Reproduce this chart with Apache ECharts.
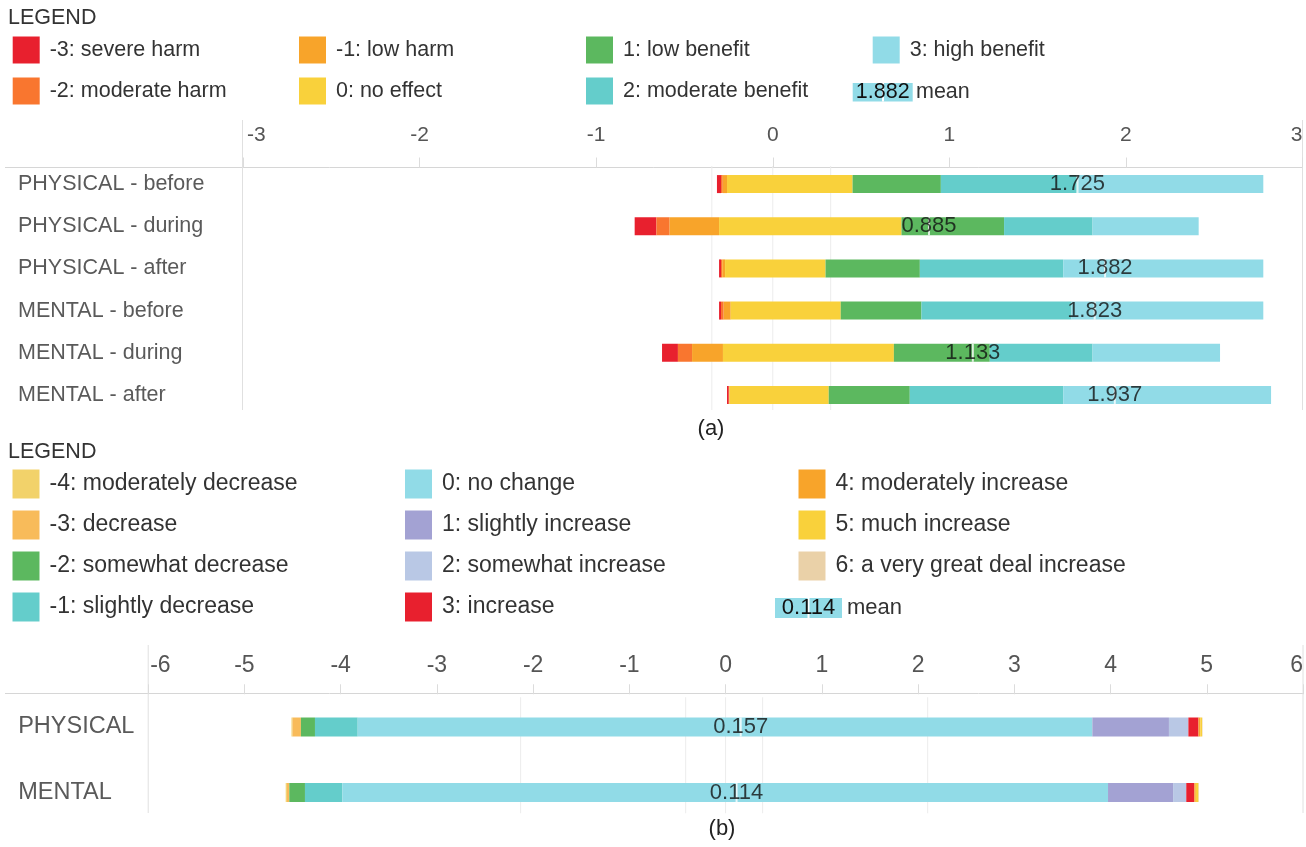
<!DOCTYPE html>
<html><head><meta charset="utf-8">
<script src="https://cdn.jsdelivr.net/npm/echarts@6/dist/echarts.min.js"></script>
<style>html,body{margin:0;padding:0;background:#fff}#c{width:1306px;height:847px}</style>
</head><body><div id="c"></div>
<script>
const FONT = '"Liberation Sans", Arial, Helvetica, sans-serif';

// ---------- Panel (a) data ----------
const categoriesA = ['PHYSICAL - before','PHYSICAL - during','PHYSICAL - after','MENTAL - before','MENTAL - during','MENTAL - after'];
const levelNamesA = ['-3: severe harm','-2: moderate harm','-1: low harm','0: no effect','1: low benefit','2: moderate benefit','3: high benefit'];
const colorsA = ['#e8202e','#f9762f','#f8a42a','#f9d13b','#5cb85f','#64cdcb','#91dbe7'];
const startA      = [-0.316, -0.782, -0.304, -0.304, -0.627, -0.259];
const severeHarm  = [0.023, 0.123, 0.011, 0.011, 0.090, 0.010];
const modHarm     = [0.010, 0.075, 0.007, 0.015, 0.080, 0.002];
const lowHarm     = [0.024, 0.280, 0.016, 0.040, 0.175, 0.003];
const noEffect    = [0.711, 1.033, 0.569, 0.623, 0.968, 0.561];
const lowBenefit  = [0.500, 0.581, 0.534, 0.457, 0.543, 0.459];
const modBenefit  = [0.778, 0.501, 0.812, 0.850, 0.582, 0.869];
const highBenefit = [1.048, 0.601, 1.133, 1.086, 0.722, 1.177];
const meansA      = [1.725, 0.885, 1.882, 1.823, 1.133, 1.937];
const ticksA      = [-3, -2, -1, 0, 1, 2, 3];
const gridLinesA  = [-0.345, 0, 0.328];

// ---------- Panel (b) data ----------
const categoriesB = ['PHYSICAL','MENTAL'];
const levelNamesB = ['-4: moderately decrease','-3: decrease','-2: somewhat decrease','-1: slightly decrease','0: no change','1: slightly increase','2: somewhat increase','3: increase','4: moderately increase','5: much increase','6: a very great deal increase'];
const colorsB = ['#f2d26a','#f8bb5a','#5cb85f','#64cdcb','#91dbe7','#a3a2d3','#b9c8e5','#e8202e','#f8a42a','#f9d13b','#ead1a8'];
const startB      = [-4.511, -4.571];
const modDecrease = [0.010, 0.012];
const decrease    = [0.088, 0.025];
const somewhatDec = [0.146, 0.163];
const slightlyDec = [0.444, 0.388];
const noChange    = [7.634, 7.957];
const slightlyInc = [0.796, 0.676];
const somewhatInc = [0.202, 0.137];
const increase    = [0.105, 0.084];
const modIncrease = [0.019, 0.015];
const muchIncrease= [0.018, 0.028];
const greatDeal   = [0.005, 0.004];
const meansB      = [0.157, 0.114];
const ticksB      = [-6, -5, -4, -3, -2, -1, 0, 1, 2, 3, 4, 5, 6];
const gridLinesB  = [-2.13, -0.415, 0, 0.385, 2.1];

const valuesA = [severeHarm, modHarm, lowHarm, noEffect, lowBenefit, modBenefit, highBenefit];
const valuesB = [modDecrease, decrease, somewhatDec, slightlyDec, noChange, slightlyInc, somewhatInc, increase, modIncrease, muchIncrease, greatDeal];

function buildPanel(idx, cats, names, colors, values, start, means, gridLines, barW, lineBottomCut, meanFont) {
  const out = [];
  out.push({
    type: 'custom', name: '_grid' + idx, xAxisIndex: idx, yAxisIndex: idx, z: 0, silent: true,
    data: gridLines.map(v => [v, cats[0]]), encode: { x: 0, y: 1 },
    renderItem: (params, api) => {
      const x = api.coord([api.value(0), 0])[0];
      const cs = params.coordSys;
      return { type: 'line', shape: { x1: x, y1: cs.y + 3, x2: x, y2: cs.y + cs.height - lineBottomCut },
               style: { stroke: '#ececec', lineWidth: 1 } };
    }
  });
  out.push({
    type: 'bar', name: '_offset' + idx, xAxisIndex: idx, yAxisIndex: idx, stack: 's' + idx, stackStrategy: 'all',
    data: start, barWidth: barW, silent: true, itemStyle: { color: 'rgba(0,0,0,0)' }, emphasis: { disabled: true }, z: 2
  });
  names.forEach((n, k) => {
    out.push({
      type: 'bar', name: n, xAxisIndex: idx, yAxisIndex: idx, stack: 's' + idx, stackStrategy: 'all',
      data: values[k], barWidth: barW, itemStyle: { color: colors[k] }, emphasis: { disabled: true }, z: 2
    });
  });
  out.push({
    type: 'scatter', name: '_mean' + idx, xAxisIndex: idx, yAxisIndex: idx, z: 5, silent: true,
    data: means.map((m, i) => [m, cats[i]]), symbol: 'rect', symbolSize: [2, barW],
    itemStyle: { color: '#ffffff' },
    label: { show: true, position: 'inside', formatter: p => p.value[0].toFixed(3), fontSize: meanFont, color: '#111', fontFamily: FONT }
  });
  return out;
}

const series = [].concat(
  buildPanel(0, categoriesA, levelNamesA, colorsA, valuesA, startA, meansA, gridLinesA, 18, 6, 22),
  buildPanel(1, categoriesB, levelNamesB, colorsB, valuesB, startB, meansB, gridLinesB, 19, 12, 22)
);

function legendCol(left, top, data, w, h, gap, fs) {
  return { left, top, orient: 'vertical', data, icon: 'rect', itemWidth: w, itemHeight: h, itemGap: gap,
           padding: 0, selectedMode: false,
           textStyle: { fontSize: fs, color: '#333', fontFamily: FONT, padding: [0, 0, 0, 5] } };
}

const legends = [
  legendCol(12.7, 36.5, levelNamesA.slice(0, 2), 27, 27, 14, 21.5),
  legendCol(299, 36.5, levelNamesA.slice(2, 4), 27, 27, 14, 21.5),
  legendCol(586, 36.5, levelNamesA.slice(4, 6), 27, 27, 14, 21.5),
  legendCol(872.7, 36.5, levelNamesA.slice(6, 7), 27, 27, 14, 21.5),
  legendCol(12.5, 469.5, levelNamesB.slice(0, 4), 27, 29, 12, 23),
  legendCol(405, 469.5, levelNamesB.slice(4, 8), 27, 29, 12, 23),
  legendCol(798.5, 469.5, levelNamesB.slice(8, 11), 27, 29, 12, 23)
];

function xAxisCfg(idx, ticks, offset, fs, margin, minPad) {
  const min = ticks[0];
  return {
    gridIndex: idx, type: 'value', position: 'top', min, max: ticks[ticks.length - 1],
    interval: ticks[1] - ticks[0], offset,
    axisLine: { show: false }, splitLine: { show: false },
    axisTick: { show: true, length: 10, lineStyle: { color: '#dcdcdc' } },
    axisLabel: {
      fontSize: fs, color: '#555', margin, fontFamily: FONT, alignMinLabel: 'left', alignMaxLabel: 'right',
      formatter: v => (v === min ? '{m|' + v + '}' : String(v)),
      rich: { m: { padding: [0, 0, 0, minPad], fontSize: fs, color: '#555', fontFamily: FONT } }
    }
  };
}
function yAxisCfg(idx, cats, margin, fs) {
  return {
    gridIndex: idx, type: 'category', data: cats, inverse: true,
    axisLine: { show: false }, axisTick: { show: false }, splitLine: { show: false },
    axisLabel: { align: 'left', margin, fontSize: fs, color: '#5a5a5a', fontFamily: FONT }
  };
}

const lineStyle = { stroke: '#d6d6d6', lineWidth: 1 };
const vStyle = { stroke: '#e0e0e0', lineWidth: 1 };
const graphic = [
  { type: 'text', x: 8, y: 18, style: { text: 'LEGEND', font: '21.5px ' + FONT, fill: '#333', textAlign: 'left', textVerticalAlign: 'middle' } },
  { type: 'line', shape: { x1: 5, y1: 167.5, x2: 1302.5, y2: 167.5 }, style: lineStyle },
  { type: 'line', shape: { x1: 242.5, y1: 120, x2: 242.5, y2: 410 }, style: vStyle },
  { type: 'line', shape: { x1: 1302.5, y1: 120, x2: 1302.5, y2: 410 }, style: vStyle },
  { type: 'rect', shape: { x: 852.7, y: 83, width: 60, height: 18.5 }, style: { fill: colorsA[6] } },
  { type: 'line', shape: { x1: 883, y1: 83, x2: 883, y2: 101.5 }, style: { stroke: '#fff', lineWidth: 2 } },
  { type: 'text', x: 882.7, y: 92.5, style: { text: meansA[2].toFixed(3), font: '21.5px ' + FONT, fill: '#111', textAlign: 'center', textVerticalAlign: 'middle' } },
  { type: 'text', x: 916, y: 92.5, style: { text: 'mean', font: '21.5px ' + FONT, fill: '#333', textAlign: 'left', textVerticalAlign: 'middle' } },
  { type: 'text', x: 711, y: 429, style: { text: '(a)', font: '22px ' + FONT, fill: '#222', textAlign: 'center', textVerticalAlign: 'middle' } },

  { type: 'text', x: 8, y: 452, style: { text: 'LEGEND', font: '21.5px ' + FONT, fill: '#333', textAlign: 'left', textVerticalAlign: 'middle' } },
  { type: 'line', shape: { x1: 5, y1: 693.5, x2: 1303, y2: 693.5 }, style: lineStyle },
  { type: 'line', shape: { x1: 148.2, y1: 645, x2: 148.2, y2: 813 }, style: vStyle },
  { type: 'line', shape: { x1: 1303, y1: 645, x2: 1303, y2: 813 }, style: vStyle },
  { type: 'rect', shape: { x: 775, y: 598, width: 67, height: 20 }, style: { fill: colorsB[4] } },
  { type: 'line', shape: { x1: 808.5, y1: 598, x2: 808.5, y2: 618 }, style: { stroke: '#fff', lineWidth: 2 } },
  { type: 'text', x: 808.5, y: 608, style: { text: meansB[1].toFixed(3), font: '22px ' + FONT, fill: '#111', textAlign: 'center', textVerticalAlign: 'middle' } },
  { type: 'text', x: 847, y: 608, style: { text: 'mean', font: '22px ' + FONT, fill: '#333', textAlign: 'left', textVerticalAlign: 'middle' } },
  { type: 'text', x: 722, y: 829, style: { text: '(b)', font: '22px ' + FONT, fill: '#222', textAlign: 'center', textVerticalAlign: 'middle' } }
];

const chart = echarts.init(document.getElementById('c'), null, { renderer: 'canvas' });
chart.setOption({
  animation: false,
  backgroundColor: '#fff',
  textStyle: { fontFamily: FONT },
  legend: legends,
  grid: [
    { left: 243, right: 3.5, top: 163, height: 253 },
    { left: 148.2, right: 2.8, top: 694.25, height: 131 }
  ],
  xAxis: [xAxisCfg(0, ticksA, -4.5, 21, 21.5, 4), xAxisCfg(1, ticksB, 0, 23, 17.5, 2)],
  yAxis: [yAxisCfg(0, categoriesA, 225, 21.5), yAxisCfg(1, categoriesB, 130, 23.5)],
  series,
  graphic
});
</script></body></html>
